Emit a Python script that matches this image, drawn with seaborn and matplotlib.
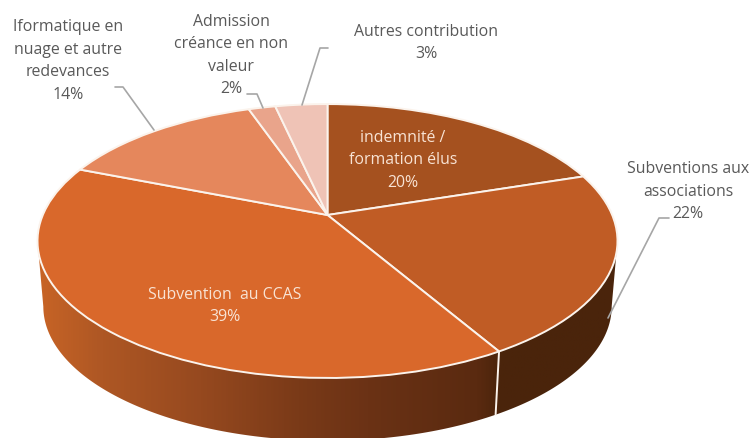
import numpy as np
import matplotlib
matplotlib.use("Agg")
import matplotlib.pyplot as plt
from matplotlib.colors import LinearSegmentedColormap
from matplotlib.patches import Polygon
from matplotlib.transforms import Transform
import seaborn as sns

categories = ["indemnité /\nformation élus", "Subventions aux\nassociations", "Subvention  au CCAS",
              "Iformatique en\nnuage et autre\nredevances", "Admission\ncréance en non\nvaleur",
              "Autres contribution"]
values = [20.0, 21.6, 39.4, 13.71, 1.8, 3.49]
pct_labels = ["20%", "22%", "39%", "14%", "2%", "3%"]
slice_colors = ["#A5511F", "#C05C25", "#D9682B", "#E5875C", "#E9A48B", "#EFC3B6"]
wall_stops = [(0.0, "#C86426"), (0.11, "#AE5724"), (0.28, "#96491F"), (0.45, "#7A3A18"),
              (0.57, "#6B3215"), (0.76, "#5A2A10"), (0.80, "#4A240B"), (1.0, "#4A240B")]

CX, CY = 327.5, 215
A, B, K = 132, 284.7, 0.19
DROP, SCALE = 66, 0.98


class Tilt(Transform):
    input_dims = output_dims = 2
    is_separable = False

    def __init__(self, scale=1.0, drop=0.0):
        super().__init__()
        self.scale = scale
        self.drop = drop

    def transform_non_affine(self, xy):
        xy = np.asarray(xy, dtype=float)
        w = 1 + K * xy[:, 1]
        return np.column_stack([CX + self.scale * B * xy[:, 0] / w,
                                CY + self.drop - self.scale * A * xy[:, 1] / w])


sns.set_theme(style="white")
plt.rcParams["font.family"] = ["Open Sans", "DejaVu Sans"]

fig = plt.figure(figsize=(7.51, 4.38), dpi=100)
ax = fig.add_axes([0, 0, 1, 1])

top = Tilt()
bottom = Tilt(SCALE, DROP)

# side wall
t = np.linspace(-np.arcsin(K), -np.pi + np.arcsin(K), 200)
rim = np.column_stack([np.cos(t), np.sin(t)])
wall_xy = np.vstack([top.transform(rim), bottom.transform(rim)[::-1]])
wall = Polygon(wall_xy, closed=True, transform=ax.transData, fc="none", ec="none")
ax.add_patch(wall)
cmap = LinearSegmentedColormap.from_list("wall", wall_stops)
img = ax.imshow(np.linspace(0, 1, 400)[None, :], cmap=cmap, extent=[37, 618, 438, 200],
                aspect="auto", zorder=1)
img.set_clip_path(wall)

# top of the pie
wedges, _ = ax.pie(values, colors=slice_colors, startangle=90, counterclock=False,
                   wedgeprops=dict(edgecolor="#FBF3EC", linewidth=1.4))
for w in wedges:
    w.set_transform(top + ax.transData)
    w.set_clip_on(False)
    w.set_zorder(3)

# white seam on the wall
a = np.deg2rad(90 - 360 * sum(values[:2]) / sum(values))
seam = np.array([[np.cos(a), np.sin(a)]])
p0, p1 = top.transform(seam)[0], bottom.transform(seam)[0]
ax.plot([p0[0], p1[0]], [p0[1], p1[1]], color="#FBF3EC", lw=1.4, zorder=2)

ax.set_xlim(0, 751)
ax.set_ylim(438, 0)
ax.set_aspect("auto")
ax.axis("off")

# leader lines
leaders = [([115, 123, 154], [87, 87, 130]),
           ([247, 257, 263], [94, 94, 108]),
           ([328, 320, 302], [48, 48, 105]),
           ([669, 659, 608], [218, 218, 318])]
for lx, ly in leaders:
    ax.plot(lx, ly, color="#A6A6A6", lw=1.2, zorder=4)

GREY, LIGHT = "#595959", "#F8E3D4"
txt = dict(ha="center", va="center", fontsize=11.4, linespacing=1.55, zorder=5)
ax.text(403, 160.5, f"{categories[0]}\n{pct_labels[0]}", color=LIGHT, **txt)
ax.text(688, 191.5, f"{categories[1]}\n{pct_labels[1]}", color=GREY, **txt)
ax.text(225, 306, f"{categories[2]}\n{pct_labels[2]}", color=LIGHT, **txt)
ax.text(68, 61, f"{categories[3]}\n{pct_labels[3]}", color=GREY, **txt)
ax.text(231, 55.5, f"{categories[4]}\n{pct_labels[4]}", color=GREY, **txt)
ax.text(426, 43, f"{categories[5]}\n{pct_labels[5]}", color=GREY, **txt)

fig.savefig("out.png", dpi=100)
